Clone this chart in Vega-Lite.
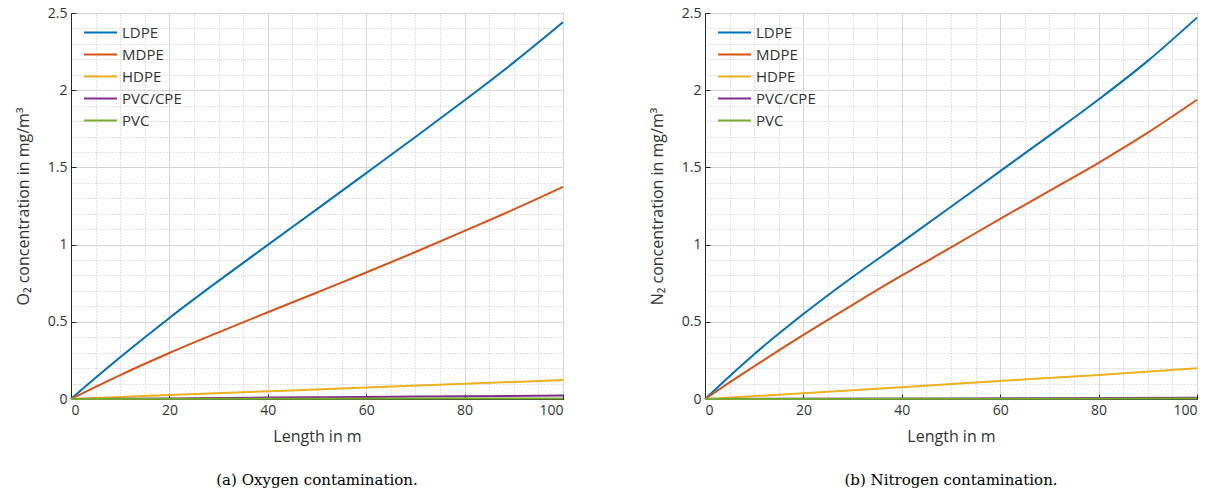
{
  "$schema": "https://vega.github.io/schema/vega-lite/v6.json",
  "background": "white",
  "padding": {"left": 14, "top": 5, "right": 5, "bottom": 5},
  "config": {
    "font": "Open Sans",
    "view": {"stroke": "#262626", "strokeWidth": 1},
    "axis": {
      "labelFont": "Open Sans", "labelFontSize": 14, "labelColor": "#333333",
      "titleFont": "Open Sans", "titleFontSize": 16, "titleFontWeight": "normal", "titleColor": "#333333",
      "domainColor": "#262626", "tickColor": "#262626", "tickSize": -5, "labelPadding": 9,
      "gridColor": "#d6d6d6", "gridWidth": 1
    },
    "legend": {
      "orient": "none", "legendX": 22, "legendY": 12,
      "symbolType": "M-3,0H3", "symbolSize": 121, "symbolStrokeWidth": 2,
      "labelFont": "Open Sans", "labelFontSize": 15, "labelColor": "#333333",
      "rowPadding": 6, "labelOffset": 14, "title": null
    },
    "title": {"font": "DejaVu Serif", "fontSize": 15, "fontWeight": "normal", "color": "#000000"}
  },
  "datasets": {
    "oxygen": [
      {"m": 0, "s": "LDPE", "c": 0}, {"m": 5, "s": "LDPE", "c": 0.137}, {"m": 10, "s": "LDPE", "c": 0.27}, {"m": 20, "s": "LDPE", "c": 0.525}, {"m": 30, "s": "LDPE", "c": 0.765}, {"m": 40, "s": "LDPE", "c": 0.998}, {"m": 50, "s": "LDPE", "c": 1.23}, {"m": 60, "s": "LDPE", "c": 1.463}, {"m": 70, "s": "LDPE", "c": 1.697}, {"m": 80, "s": "LDPE", "c": 1.935}, {"m": 90, "s": "LDPE", "c": 2.18}, {"m": 100, "s": "LDPE", "c": 2.44},
      {"m": 0, "s": "MDPE", "c": 0}, {"m": 5, "s": "MDPE", "c": 0.079}, {"m": 10, "s": "MDPE", "c": 0.155}, {"m": 20, "s": "MDPE", "c": 0.298}, {"m": 30, "s": "MDPE", "c": 0.432}, {"m": 40, "s": "MDPE", "c": 0.562}, {"m": 50, "s": "MDPE", "c": 0.69}, {"m": 60, "s": "MDPE", "c": 0.819}, {"m": 70, "s": "MDPE", "c": 0.952}, {"m": 80, "s": "MDPE", "c": 1.089}, {"m": 90, "s": "MDPE", "c": 1.228}, {"m": 100, "s": "MDPE", "c": 1.374},
      {"m": 0, "s": "HDPE", "c": 0}, {"m": 10, "s": "HDPE", "c": 0.013}, {"m": 20, "s": "HDPE", "c": 0.026}, {"m": 40, "s": "HDPE", "c": 0.05}, {"m": 60, "s": "HDPE", "c": 0.074}, {"m": 80, "s": "HDPE", "c": 0.098}, {"m": 100, "s": "HDPE", "c": 0.123},
      {"m": 0, "s": "PVC/CPE", "c": 0}, {"m": 20, "s": "PVC/CPE", "c": 0.004}, {"m": 40, "s": "PVC/CPE", "c": 0.009}, {"m": 60, "s": "PVC/CPE", "c": 0.013}, {"m": 80, "s": "PVC/CPE", "c": 0.018}, {"m": 100, "s": "PVC/CPE", "c": 0.022},
      {"m": 0, "s": "PVC", "c": 0}, {"m": 50, "s": "PVC", "c": 0.002}, {"m": 100, "s": "PVC", "c": 0.004}
    ],
    "nitrogen": [
      {"m": 0, "s": "LDPE", "c": 0}, {"m": 5, "s": "LDPE", "c": 0.148}, {"m": 10, "s": "LDPE", "c": 0.29}, {"m": 20, "s": "LDPE", "c": 0.55}, {"m": 30, "s": "LDPE", "c": 0.79}, {"m": 40, "s": "LDPE", "c": 1.016}, {"m": 50, "s": "LDPE", "c": 1.245}, {"m": 60, "s": "LDPE", "c": 1.476}, {"m": 70, "s": "LDPE", "c": 1.706}, {"m": 80, "s": "LDPE", "c": 1.94}, {"m": 90, "s": "LDPE", "c": 2.19}, {"m": 100, "s": "LDPE", "c": 2.47},
      {"m": 0, "s": "MDPE", "c": 0}, {"m": 5, "s": "MDPE", "c": 0.108}, {"m": 10, "s": "MDPE", "c": 0.212}, {"m": 20, "s": "MDPE", "c": 0.415}, {"m": 30, "s": "MDPE", "c": 0.61}, {"m": 40, "s": "MDPE", "c": 0.8}, {"m": 50, "s": "MDPE", "c": 0.982}, {"m": 60, "s": "MDPE", "c": 1.167}, {"m": 70, "s": "MDPE", "c": 1.348}, {"m": 80, "s": "MDPE", "c": 1.53}, {"m": 90, "s": "MDPE", "c": 1.725}, {"m": 100, "s": "MDPE", "c": 1.938},
      {"m": 0, "s": "HDPE", "c": 0}, {"m": 20, "s": "HDPE", "c": 0.037}, {"m": 40, "s": "HDPE", "c": 0.076}, {"m": 60, "s": "HDPE", "c": 0.117}, {"m": 80, "s": "HDPE", "c": 0.156}, {"m": 100, "s": "HDPE", "c": 0.199},
      {"m": 0, "s": "PVC/CPE", "c": 0}, {"m": 50, "s": "PVC/CPE", "c": 0.004}, {"m": 100, "s": "PVC/CPE", "c": 0.008},
      {"m": 0, "s": "PVC", "c": 0}, {"m": 50, "s": "PVC", "c": 0.0015}, {"m": 100, "s": "PVC", "c": 0.003}
    ]
  },
  "resolve": {"scale": {"color": "independent"}},
  "spacing": 80,
  "hconcat": [
    {
      "width": 492, "height": 386,
      "data": {"name": "oxygen"},
      "title": {"text": "(a) Oxygen contamination.", "orient": "bottom", "offset": 29},
      "layer": [
        {
          "mark": {"type": "line", "strokeOpacity": 0},
          "encoding": {
            "x": {"field": "m", "type": "quantitative", "scale": {"domain": [0, 100], "nice": false},
                  "axis": {"orient": "top", "values": [5, 10, 15, 25, 30, 35, 45, 50, 55, 65, 70, 75, 85, 90, 95], "grid": true, "gridDash": [1, 2], "gridColor": "#c4c4c4", "labels": false, "ticks": false, "domain": false, "title": null}},
            "y": {"field": "c", "type": "quantitative", "scale": {"domain": [0, 2.5], "nice": false},
                  "axis": {"orient": "right", "values": [0.1, 0.2, 0.3, 0.4, 0.6, 0.7, 0.8, 0.9, 1.1, 1.2, 1.3, 1.4, 1.6, 1.7, 1.8, 1.9, 2.1, 2.2, 2.3, 2.4], "grid": true, "gridDash": [1, 2], "gridColor": "#c4c4c4", "labels": false, "ticks": false, "domain": false, "title": null}},
            "detail": {"field": "s"}
          }
        },
        {
          "mark": {"type": "line", "strokeWidth": 2, "interpolate": "monotone"},
          "encoding": {
            "x": {"field": "m", "type": "quantitative", "scale": {"domain": [0, 100], "nice": false},
                  "axis": {"orient": "bottom", "values": [0, 20, 40, 60, 80, 100], "grid": true, "title": "Length in m", "titlePadding": 11}},
            "y": {"field": "c", "type": "quantitative", "scale": {"domain": [0, 2.5], "nice": false},
                  "axis": {"orient": "left", "values": [0, 0.5, 1, 1.5, 2, 2.5], "format": "~g", "grid": true, "title": "O₂ concentration in mg/m³", "titlePadding": 16}},
            "color": {"field": "s", "type": "nominal",
                      "scale": {"domain": ["LDPE", "MDPE", "HDPE", "PVC/CPE", "PVC"], "range": ["#0072BD", "#D95319", "#EDB120", "#7E2F8E", "#77AC30"]}}
          }
        }
      ],
      "resolve": {"axis": {"x": "independent", "y": "independent"}}
    },
    {
      "width": 492, "height": 386,
      "data": {"name": "nitrogen"},
      "title": {"text": "(b) Nitrogen contamination.", "orient": "bottom", "offset": 29},
      "layer": [
        {
          "mark": {"type": "line", "strokeOpacity": 0},
          "encoding": {
            "x": {"field": "m", "type": "quantitative", "scale": {"domain": [0, 100], "nice": false},
                  "axis": {"orient": "top", "values": [5, 10, 15, 25, 30, 35, 45, 50, 55, 65, 70, 75, 85, 90, 95], "grid": true, "gridDash": [1, 2], "gridColor": "#c4c4c4", "labels": false, "ticks": false, "domain": false, "title": null}},
            "y": {"field": "c", "type": "quantitative", "scale": {"domain": [0, 2.5], "nice": false},
                  "axis": {"orient": "right", "values": [0.1, 0.2, 0.3, 0.4, 0.6, 0.7, 0.8, 0.9, 1.1, 1.2, 1.3, 1.4, 1.6, 1.7, 1.8, 1.9, 2.1, 2.2, 2.3, 2.4], "grid": true, "gridDash": [1, 2], "gridColor": "#c4c4c4", "labels": false, "ticks": false, "domain": false, "title": null}},
            "detail": {"field": "s"}
          }
        },
        {
          "mark": {"type": "line", "strokeWidth": 2, "interpolate": "monotone"},
          "encoding": {
            "x": {"field": "m", "type": "quantitative", "scale": {"domain": [0, 100], "nice": false},
                  "axis": {"orient": "bottom", "values": [0, 20, 40, 60, 80, 100], "grid": true, "title": "Length in m", "titlePadding": 11}},
            "y": {"field": "c", "type": "quantitative", "scale": {"domain": [0, 2.5], "nice": false},
                  "axis": {"orient": "left", "values": [0, 0.5, 1, 1.5, 2, 2.5], "format": "~g", "grid": true, "title": "N₂ concentration in mg/m³", "titlePadding": 16}},
            "color": {"field": "s", "type": "nominal",
                      "scale": {"domain": ["LDPE", "MDPE", "HDPE", "PVC/CPE", "PVC"], "range": ["#0072BD", "#D95319", "#EDB120", "#7E2F8E", "#77AC30"]}}
          }
        }
      ],
      "resolve": {"axis": {"x": "independent", "y": "independent"}}
    }
  ]
}
